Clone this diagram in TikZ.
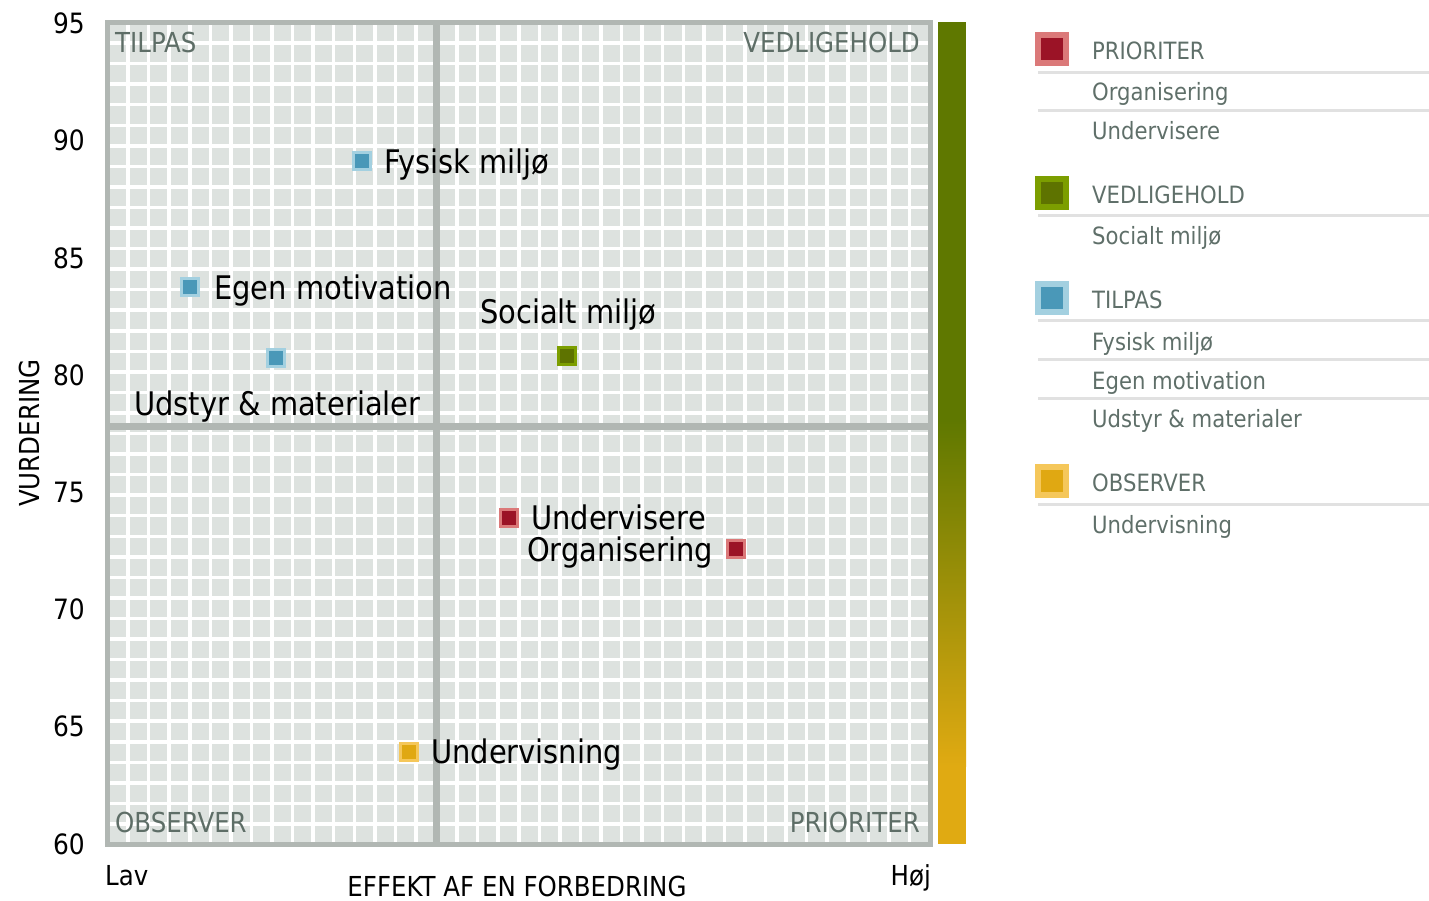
\documentclass[tikz,border=0pt]{standalone}
\usepackage{fontspec}
\setmainfont{DejaVu Sans}[FakeStretch=0.89]
\definecolor{gridbg}{HTML}{DDE2DF}
\definecolor{framec}{HTML}{B1B7B3}
\definecolor{quadc}{HTML}{5E6E67}
\definecolor{legc}{HTML}{5F6F69}
\definecolor{sepc}{HTML}{E1E1E1}
\definecolor{vgreen}{HTML}{5F7800}
\definecolor{vgold}{HTML}{E0AA12}
\definecolor{bluef}{HTML}{4A98B8}
\definecolor{blueb}{HTML}{A3D0E0}
\definecolor{redf}{HTML}{9B1326}
\definecolor{redb}{HTML}{DB7979}
\definecolor{greenf}{HTML}{5E7300}
\definecolor{greenb}{HTML}{7C9E00}
\definecolor{goldf}{HTML}{E0A812}
\definecolor{goldb}{HTML}{F5C75A}
\tikzset{
  mk/.style={rectangle, minimum size=17pt, line width=3pt, inner sep=0pt, outer sep=0pt},
  lmk/.style={rectangle, minimum size=28pt, line width=6pt, inner sep=0pt, outer sep=0pt},
  bluemark/.style={draw=blueb, fill=bluef},
  redmark/.style={draw=redb, fill=redf},
  greenmark/.style={draw=greenb, fill=greenf},
  goldmark/.style={draw=goldb, fill=goldf},
  dlabel/.style={anchor=base west, inner sep=0pt, text=black, font=\fontsize{32.5}{32.5}\selectfont},
  ticklab/.style={anchor=east, inner sep=0pt, text=black, font=\fontsize{28}{28}\selectfont},
  quadlab/.style={inner sep=0pt, text=quadc, font=\fontsize{27.5}{27.5}\selectfont},
  axlab/.style={inner sep=0pt, text=black, font=\fontsize{27.5}{27.5}\selectfont},
  legtext/.style={anchor=base west, inner sep=0pt, text=legc, font=\fontsize{23.8}{23.8}\selectfont},
  sepline/.style={draw=sepc, line width=3pt},
  gridline/.style={draw=white, line width=3.5pt},
  quadline/.style={draw=framec, line width=7pt},
}
\begin{document}
\begin{tikzpicture}[x=1pt,y=-1pt]
\useasboundingbox (0,0) rectangle (1429,900);
% plot background and grid
\fill[gridbg] (107.5,22.5) rectangle (930,844.5);
\foreach \i in {1,...,39} {
  \draw[gridline] ({107.5+\i*20.5625},22.5) -- ({107.5+\i*20.5625},844.5);
  \draw[gridline] (107.5,{22.5+\i*20.55}) -- (930,{22.5+\i*20.55});
}
% quadrant dividers
\draw[quadline] (436.5,22.5) -- (436.5,844.5);
\draw[quadline] (107.5,426) -- (930,426);
% frame
\draw[draw=framec, line width=5pt] (107.5,22.5) rectangle (930,844.5);
% colour bar
\fill[vgreen] (938,22) rectangle (966,421);
\shade[top color=vgreen, bottom color=vgold] (938,420) rectangle (966,766);
\fill[vgold] (938,765) rectangle (966,844);
% quadrant labels
\node[quadlab, anchor=base west] (qtl) at (115,52) {TILPAS};
\node[quadlab, anchor=base east] (qtr) at (920,52) {VEDLIGEHOLD};
\node[quadlab, anchor=base west] (qbl) at (115,832) {OBSERVER};
\node[quadlab, anchor=base east] (qbr) at (920,832) {PRIORITER};
% tick labels
\node[ticklab] (t95) at (85,23) {95};
\node[ticklab] (t90) at (85,140.5) {90};
\node[ticklab] (t85) at (85,258) {85};
\node[ticklab] (t80) at (85,375) {80};
\node[ticklab] (t75) at (85,492) {75};
\node[ticklab] (t70) at (85,609) {70};
\node[ticklab] (t65) at (85,726.5) {65};
\node[ticklab] (t60) at (85,844) {60};
% axis labels
\node[axlab, anchor=base west] (lav) at (105,885) {Lav};
\node[axlab, anchor=base east] (hoj) at (931,885) {Høj};
\node[axlab, anchor=base] (xlab) at (517,896) {EFFEKT AF EN FORBEDRING};
\node[axlab, anchor=base, rotate=90] (ylab) at (39,433) {VURDERING};
% data points
\node[mk, bluemark] (p1) at (362,161) {};
\node[dlabel] (l1) at (384,173) {Fysisk miljø};
\node[mk, bluemark] (p2) at (190,287) {};
\node[dlabel] (l2) at (214,299) {Egen motivation};
\node[mk, bluemark] (p3) at (276,358) {};
\node[dlabel] (l3) at (134,415) {Udstyr \& materialer};
\node[mk, greenmark] (p4) at (567,356) {};
\node[dlabel] (l4) at (480,323) {Socialt miljø};
\node[mk, redmark] (p5) at (509,518) {};
\node[dlabel] (l5) at (531,529) {Undervisere};
\node[mk, redmark] (p6) at (736,549) {};
\node[dlabel] (l6) at (527,561) {Organisering};
\node[mk, goldmark] (p7) at (409,752) {};
\node[dlabel] (l7) at (431,763) {Undervisning};
% legend
\node[lmk, redmark] (g1) at (1052,49) {};
\node[legtext] (g1t) at (1092,59) {PRIORITER};
\draw[sepline] (1038,72) -- (1429,72);
\node[legtext] (g1a) at (1092,100) {Organisering};
\draw[sepline] (1038,110) -- (1429,110);
\node[legtext] (g1b) at (1092,139) {Undervisere};
\node[lmk, greenmark] (g2) at (1052,193) {};
\node[legtext] (g2t) at (1092,203) {VEDLIGEHOLD};
\draw[sepline] (1038,215) -- (1429,215);
\node[legtext] (g2a) at (1092,244) {Socialt miljø};
\node[lmk, bluemark] (g3) at (1052,298) {};
\node[legtext] (g3t) at (1092,308) {TILPAS};
\draw[sepline] (1038,320) -- (1429,320);
\node[legtext] (g3a) at (1092,350) {Fysisk miljø};
\draw[sepline] (1038,359) -- (1429,359);
\node[legtext] (g3b) at (1092,389) {Egen motivation};
\draw[sepline] (1038,398) -- (1429,398);
\node[legtext] (g3c) at (1092,427) {Udstyr \& materialer};
\node[lmk, goldmark] (g4) at (1052,481) {};
\node[legtext] (g4t) at (1092,491) {OBSERVER};
\draw[sepline] (1038,504) -- (1429,504);
\node[legtext] (g4a) at (1092,533) {Undervisning};
\end{tikzpicture}
\end{document}
